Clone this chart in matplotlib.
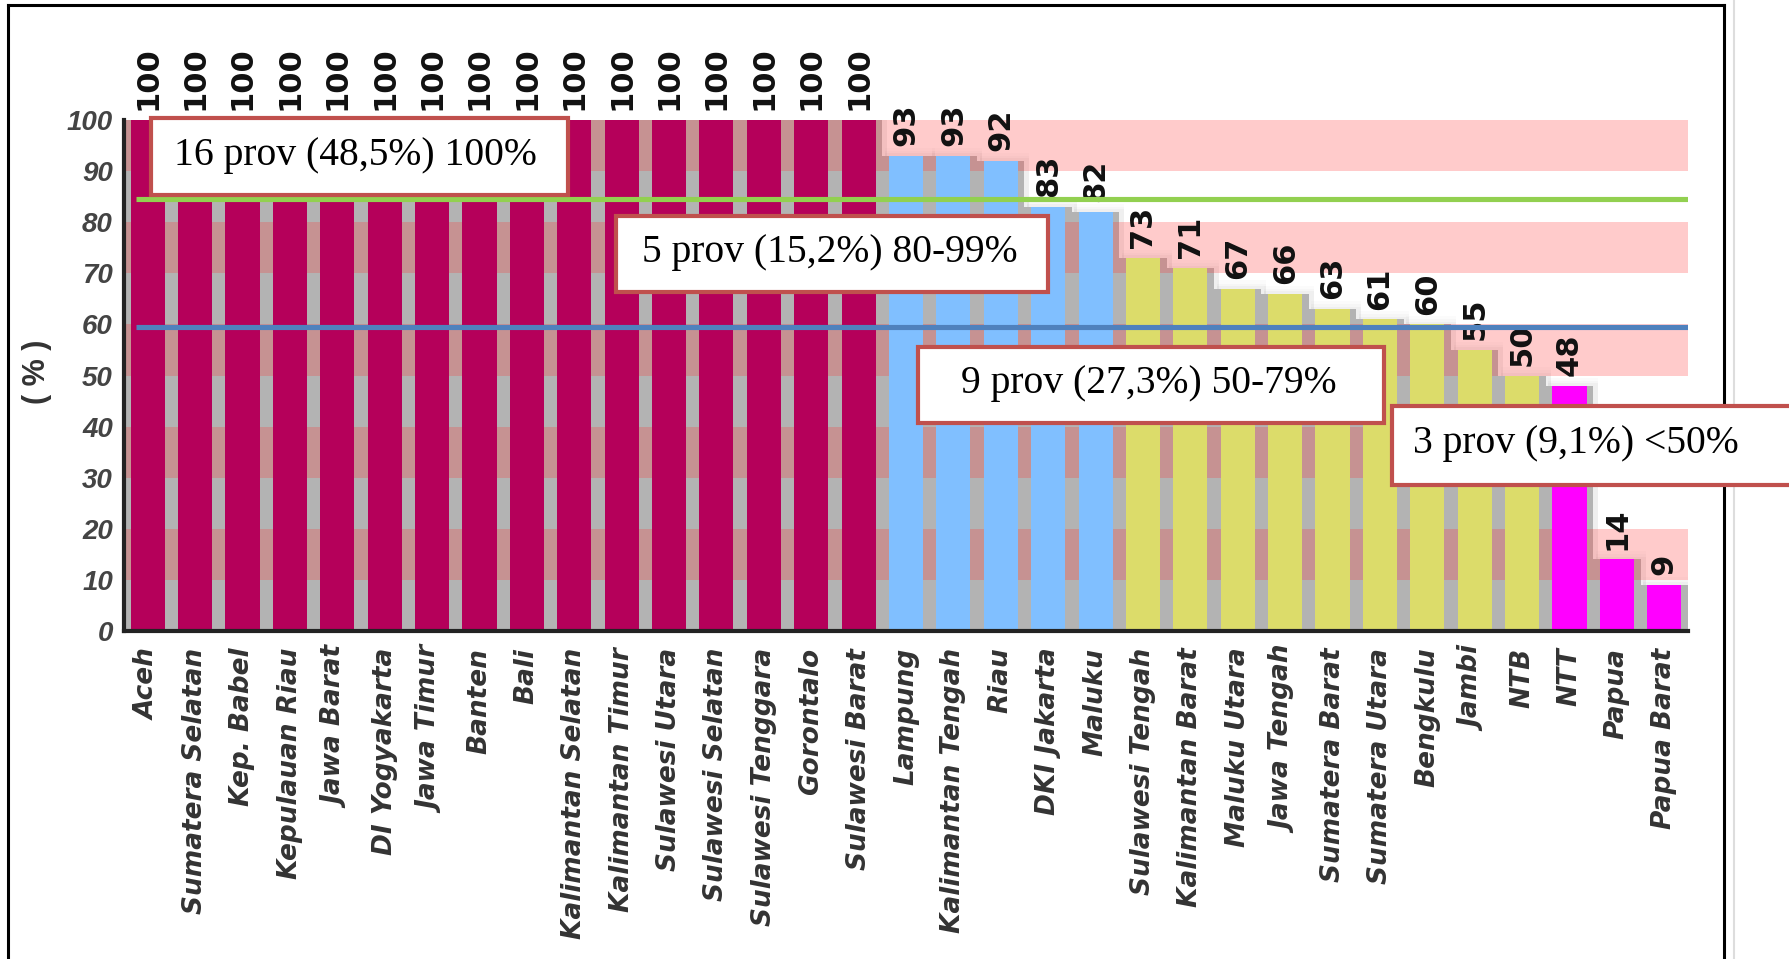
import matplotlib
matplotlib.use("Agg")
import matplotlib.pyplot as plt
from matplotlib.patches import Rectangle
from matplotlib.lines import Line2D
import numpy as np

plt.rcParams['font.family'] = ['Liberation Sans', 'DejaVu Sans']

provinces = ['Aceh', 'Sumatera Selatan', 'Kep. Babel', 'Kepulauan Riau', 'Jawa Barat',
             'DI Yogyakarta', 'Jawa Timur', 'Banten', 'Bali', 'Kalimantan Selatan',
             'Kalimantan Timur', 'Sulawesi Utara', 'Sulawesi Selatan', 'Sulawesi Tenggara',
             'Gorontalo', 'Sulawesi Barat', 'Lampung', 'Kalimantan Tengah', 'Riau',
             'DKI Jakarta', 'Maluku', 'Sulawesi Tengah', 'Kalimantan Barat', 'Maluku Utara',
             'Jawa Tengah', 'Sumatera Barat', 'Sumatera Utara', 'Bengkulu', 'Jambi', 'NTB',
             'NTT', 'Papua', 'Papua Barat']
values = [100, 100, 100, 100, 100, 100, 100, 100, 100, 100, 100, 100, 100, 100, 100, 100,
          93, 93, 92, 83, 82,
          73, 71, 67, 66, 63, 61, 60, 55, 50,
          48, 14, 9]
yticks = [0, 10, 20, 30, 40, 50, 60, 70, 80, 90, 100]
band_starts = [10, 30, 50, 70, 90]
line_green = 84.5
line_blue = 59.5
box_texts = ['16 prov (48,5%) 100%', '5 prov (15,2%) 80-99%',
             '9 prov (27,3%) 50-79%', '3 prov (9,1%) <50%']

W, H = 1790, 959
fig = plt.figure(figsize=(W / 100, H / 100), dpi=100)
fig.patch.set_facecolor('white')


def fx(px):
    return px / W


def fy(py):
    return 1 - py / H


ax = fig.add_axes([fx(124), fy(631), fx(1564), 511 / H])
ax.set_facecolor('white')
x = np.arange(len(values))
ax.set_xlim(-0.5, len(values) - 0.5)
ax.set_ylim(0, 100)

# soft shadow halo behind columns
for dh, a in [(1.6, 0.03), (1.0, 0.04), (0.5, 0.05)]:
    ax.bar(x + 0.08, np.array(values) + dh, width=1.05, color='#808080', alpha=a,
           zorder=0.5, lw=0)

# gray back columns
ax.bar(x, values, width=1.0, color='#b3b3b3', zorder=1, lw=0)

# pink bands (tint white and gray alike)
for b in band_starts:
    ax.axhspan(b, b + 10, color=(1.0, 0.2, 0.2), alpha=0.25, zorder=1.5, lw=0)


def bar_color(v):
    if v >= 100:
        return '#b5005a'
    if v >= 80:
        return '#80bfff'
    if v >= 50:
        return '#dcdc6a'
    return '#ff00ff'


colors = [bar_color(v) for v in values]
ax.bar(x, values, width=0.72, color=colors, zorder=3, lw=0)

for xi, v in zip(x, values):
    ax.annotate(str(v), (xi, v), xytext=(0, 7), textcoords='offset points',
                rotation=90, ha='center', va='bottom', fontsize=22,
                fontweight='bold', family='DejaVu Sans', color='#111111',
                zorder=4, annotation_clip=False)

ax.hlines([line_green], -0.25, len(values) - 0.5, colors='#92d050', lw=3.7, zorder=5)
ax.hlines([line_blue], -0.25, len(values) - 0.5, colors='#4f81bd', lw=3.7, zorder=5)

ax.set_xticks(x)
ax.set_xticklabels(provinces, rotation=90, ha='center', va='top', fontsize=19,
                   fontweight='bold', fontstyle='italic', family='DejaVu Sans',
                   color='#333333')
ax.set_yticks(yticks)
ax.set_yticklabels([str(t) for t in yticks], fontsize=20, fontweight='bold',
                   fontstyle='italic', color='#444444')
ax.tick_params(axis='x', length=0, pad=12)
ax.tick_params(axis='y', length=0, pad=8)
for s in ['top', 'right']:
    ax.spines[s].set_visible(False)
for s in ['left', 'bottom']:
    ax.spines[s].set_color('#222222')
    ax.spines[s].set_linewidth(3)
    ax.spines[s].set_zorder(6)

fig.text(fx(37), fy(372), '( % )', rotation=90, ha='center', va='center',
         fontsize=22, fontweight='bold', color='#333333')

# outer frame
fig.add_artist(Line2D([fx(8), fx(8)], [fy(5), 0], color='black', lw=2.2))
fig.add_artist(Line2D([fx(8), fx(1724)], [fy(5), fy(5)], color='black', lw=2.2))
fig.add_artist(Line2D([fx(1724), fx(1724)], [fy(5), 0], color='black', lw=2.2))
fig.add_artist(Line2D([fx(1734), fx(1734)], [1, 0], color='#dddddd', lw=1.5))

# annotation boxes (pixel geometry)
boxes = [(151, 118, 568, 195, 174, 165),
         (616, 216, 1048, 292, 642, 262),
         (918, 347, 1384, 423, 961, 393),
         (1392, 406, 1830, 485, 1413, 453)]
for (x0, y0, x1, y1, tx, ty), t in zip(boxes, box_texts):
    r = Rectangle((fx(x0), fy(y1)), fx(x1 - x0), (y1 - y0) / H,
                  transform=fig.transFigure, facecolor='white',
                  edgecolor='#c0504d', lw=3, zorder=10, clip_on=False)
    fig.add_artist(r)
    fig.text(fx(tx), fy(ty), t, ha='left', va='baseline', fontsize=28.5,
             family='Liberation Serif', color='black', zorder=11)

fig.savefig('out.png', dpi=100, facecolor='white')
